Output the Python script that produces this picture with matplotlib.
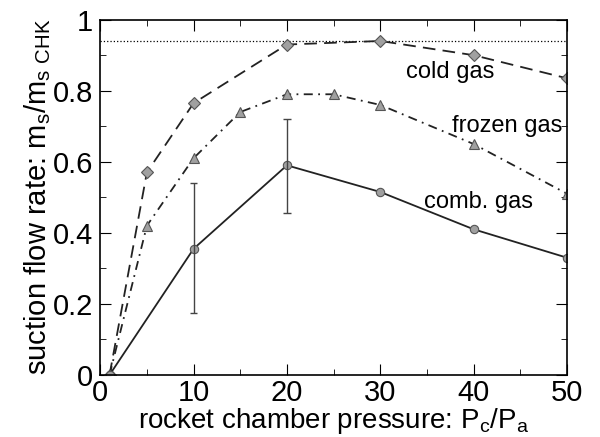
import matplotlib
matplotlib.use("Agg")
import matplotlib.pyplot as plt
from matplotlib.ticker import MultipleLocator

plt.rcParams["font.family"] = ["Liberation Sans", "DejaVu Sans"]
plt.rcParams["mathtext.fontset"] = "custom"
plt.rcParams["mathtext.rm"] = "Liberation Sans"

# cold gas (diamonds, dashed)
cold_x = [1, 5, 10, 20, 30, 40, 50]
cold_y = [0.0, 0.57, 0.765, 0.93, 0.94, 0.90, 0.835]

# frozen gas (triangles, dash-dot)
frozen_x = [1, 5, 10, 15, 20, 25, 30, 40, 50]
frozen_y = [0.0, 0.42, 0.61, 0.74, 0.79, 0.79, 0.76, 0.65, 0.51]

# combustion gas (circles, solid)
comb_x = [1, 10, 20, 30, 40, 50]
comb_y = [0.0, 0.355, 0.59, 0.515, 0.41, 0.33]

# error bars on comb. gas
err_x = [10, 20]
err_lo = [0.175, 0.455]
err_hi = [0.54, 0.72]

ideal_level = 0.94

fig, ax = plt.subplots(figsize=(6, 4.37), dpi=100)
fig.subplots_adjust(left=0.167, right=0.945, top=0.955, bottom=0.142)

mk = dict(markerfacecolor="#a0a0a0", markeredgecolor="#555555", markeredgewidth=0.8)
ax.axhline(ideal_level, color="black", linestyle=":", linewidth=0.9)
ax.plot(cold_x, cold_y, color="#222222", linestyle=(0, (7, 4)), linewidth=1.3,
        marker="D", markersize=6, **mk)
ax.plot(frozen_x, frozen_y, color="#222222", linestyle=(0, (5, 3, 1, 3)), linewidth=1.3,
        marker="^", markersize=7, **mk)
ax.plot(comb_x, comb_y, color="#222222", linestyle="-", linewidth=1.3,
        marker="o", markersize=6, **mk)
for x, lo, hi in zip(err_x, err_lo, err_hi):
    ax.vlines(x, lo, hi, color="#444444", linewidth=1.0)
    ax.hlines([lo, hi], x - 0.4, x + 0.4, color="#444444", linewidth=1.0)

ax.text(37.5, 0.853, "cold gas", fontsize=17, ha="center", va="center")
ax.text(43.6, 0.70, "frozen gas", fontsize=17, ha="center", va="center")
ax.text(40.5, 0.487, "comb. gas", fontsize=17, ha="center", va="center")

ax.set_xlim(0, 50)
ax.set_ylim(0, 1)
ax.xaxis.set_major_locator(MultipleLocator(10))
ax.xaxis.set_minor_locator(MultipleLocator(5))
ax.yaxis.set_major_locator(MultipleLocator(0.2))
ax.yaxis.set_minor_locator(MultipleLocator(0.1))
ax.tick_params(which="both", direction="in", top=True, right=True, labelsize=21)
ax.tick_params(axis="x", pad=3)
ax.tick_params(axis="y", pad=5)
ax.tick_params(which="major", length=8)
ax.tick_params(which="minor", length=4)
ax.set_yticks([0, 0.2, 0.4, 0.6, 0.8, 1.0])
ax.set_yticklabels(["0", "0.2", "0.4", "0.6", "0.8", "1"])
for s in ax.spines.values():
    s.set_linewidth(1.2)

ax.set_xlabel(r"rocket chamber pressure: P$_\mathrm{c}$/P$_\mathrm{a}$", fontsize=20, labelpad=-1)
ax.set_ylabel(r"suction flow rate: m$_\mathrm{s}$/m$_\mathrm{s\ CHK}$", fontsize=21, labelpad=0)

fig.savefig("out.png", dpi=100)
